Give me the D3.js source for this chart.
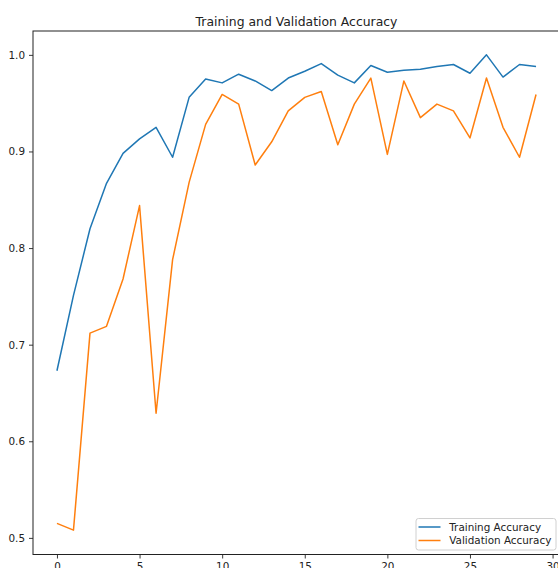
<!DOCTYPE html>
<html>
<head>
<meta charset="utf-8">
<script src="https://cdn.jsdelivr.net/npm/d3@7"></script>
<style>
  body { margin: 0; background: #fff; }
  text { font-family: "DejaVu Sans", sans-serif; fill: #222; }
</style>
</head>
<body>
<div id="chart"></div>
<script>
// epochs 0..29
const epochs = d3.range(30);

const trainAcc = [0.673, 0.751, 0.820, 0.867, 0.898, 0.913, 0.925, 0.894, 0.956, 0.975,
  0.971, 0.980, 0.973, 0.963, 0.976, 0.983, 0.991, 0.979, 0.971, 0.989,
  0.982, 0.984, 0.985, 0.988, 0.990, 0.981, 1.000, 0.977, 0.990, 0.988];

const valAcc = [0.515, 0.508, 0.712, 0.719, 0.768, 0.844, 0.629, 0.788, 0.868, 0.928,
  0.959, 0.949, 0.886, 0.910, 0.942, 0.956, 0.962, 0.907, 0.949, 0.976,
  0.897, 0.973, 0.935, 0.949, 0.942, 0.914, 0.976, 0.925, 0.894, 0.959];

const xTicks = [0, 5, 10, 15, 20, 25, 30];
const yTicks = [0.5, 0.6, 0.7, 0.8, 0.9, 1.0];

const series = [
  { name: 'Training Accuracy', values: trainAcc, color: '#1f77b4' },
  { name: 'Validation Accuracy', values: valAcc, color: '#ff7f0e' }
];

const width = 558, height = 568;
const margin = { top: 31, right: -2, bottom: 13.5, left: 33 };
const w = width - margin.left - margin.right;
const h = height - margin.top - margin.bottom;

const svg = d3.select('#chart').append('svg')
  .attr('width', width).attr('height', height);

const g = svg.append('g').attr('transform', 'translate(' + margin.left + ',' + margin.top + ')');

// matplotlib style 5% margins
const x = d3.scaleLinear().domain([-1.45, 30.45]).range([0, w]);
const y = d3.scaleLinear().domain([0.4828, 1.0247]).range([h, 0]);

/* lines */
const line = d3.line().x((d, i) => x(epochs[i])).y(d => y(d));
series.forEach(s => {
  g.append('path')
    .datum(s.values)
    .attr('fill', 'none')
    .attr('stroke', s.color)
    .attr('stroke-width', 1.5)
    .attr('stroke-linejoin', 'round')
    .attr('d', line);
});

/* X-Axis */
const xAxis = g.append('g')
  .attr('transform', 'translate(0,' + h + ')')
  .call(d3.axisBottom(x).tickValues(xTicks).tickSize(4).tickPadding(4.5).tickFormat(d3.format('d')));

/* Y-Axis */
const yAxis = g.append('g')
  .call(d3.axisLeft(y).tickValues(yTicks).tickSize(4).tickPadding(4).tickFormat(d3.format('.1f')));

[xAxis, yAxis].forEach(a => {
  a.select('.domain').remove();
  a.selectAll('line').attr('stroke', '#222').attr('stroke-width', 0.9);
  a.selectAll('text').attr('font-size', 10.4).attr('fill', '#222');
});

/* spines */
g.append('rect')
  .attr('x', 0).attr('y', 0).attr('width', w).attr('height', h)
  .attr('fill', 'none').attr('stroke', '#222').attr('stroke-width', 1);

/* title */
svg.append('text')
  .attr('x', margin.left + w / 2)
  .attr('y', 25.5)
  .attr('text-anchor', 'middle')
  .attr('font-size', 12.4)
  .text('Training and Validation Accuracy');

/* legend */
const leg = g.append('g').attr('transform', 'translate(' + (416 - margin.left) + ',' + (h - 36) + ')');
leg.append('rect')
  .attr('x', 0).attr('y', 0).attr('width', 140).attr('height', 31.5)
  .attr('rx', 2.5)
  .attr('fill', '#fff').attr('fill-opacity', 0.8)
  .attr('stroke', '#d0d0d0').attr('stroke-width', 1);
series.forEach((s, i) => {
  const ly = 8.5 + i * 13.5;
  leg.append('line')
    .attr('x1', 2.5).attr('x2', 24.5).attr('y1', ly).attr('y2', ly)
    .attr('stroke', s.color).attr('stroke-width', 1.5);
  leg.append('text')
    .attr('x', 33.3).attr('y', ly + 3.8)
    .attr('font-size', 10.4)
    .text(s.name);
});
</script>
</body>
</html>
